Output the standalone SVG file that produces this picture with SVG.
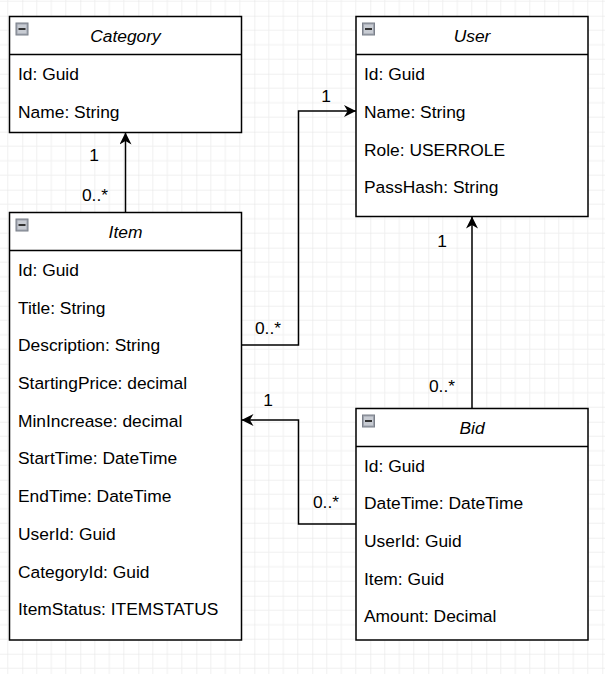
<svg xmlns="http://www.w3.org/2000/svg" width="605" height="674" viewBox="0 0 605 674">
<defs>
<pattern id="grid" x="22.3" y="15.7" width="58" height="58" patternUnits="userSpaceOnUse">
<path d="M14.5 0V58M29 0V58M43.5 0V58M0 14.5H58M0 29H58M0 43.5H58" stroke="#f0f0f0" stroke-width="1" fill="none"/>
<path d="M0 0V58M0 0H58" stroke="#e2e2e2" stroke-width="1" fill="none"/>
</pattern>
<marker id="arr" viewBox="0 0 10 10" refX="10" refY="5" markerWidth="12" markerHeight="12" markerUnits="userSpaceOnUse" orient="auto">
<path d="M0 0L10 5L0 10L3 5Z" fill="#000"/>
</marker>
<g id="icon">
<rect x="0" y="0" width="12" height="12" fill="#9ea3ad" stroke="#7b808a" stroke-width="1"/>
<rect x="1.5" y="1.5" width="9" height="9" fill="#c8ccd3"/>
<rect x="2.5" y="5" width="7" height="2" fill="#333"/>
</g>
</defs>
<style>
.box{fill:#fff;stroke:#000;stroke-width:1.5}
.sep{stroke:#000;stroke-width:1.5}
.hdr{font-family:"Liberation Sans",Arial,sans-serif;font-size:17.4px;font-style:italic;text-anchor:middle;fill:#000}
.row{font-family:"Liberation Sans",Arial,sans-serif;font-size:17.4px;fill:#000}
.lbl{font-family:"Liberation Sans",Arial,sans-serif;font-size:17.4px;fill:#000;text-anchor:middle}
.edge{fill:none;stroke:#000;stroke-width:1.5;marker-end:url(#arr)}
</style>
<rect width="605" height="674" fill="#fff"/>
<rect width="605" height="674" fill="url(#grid)"/>

<g id="connectors">
<path class="edge" d="M125.5 212.5V132.5"/>
<path class="edge" d="M241.5 345H298.5V111H356"/>
<path class="edge" d="M472 408V216.5"/>
<path class="edge" d="M356 524H298.5V420H241.5"/>
<text class="lbl" x="94" y="161">1</text>
<text class="lbl" x="95" y="201">0..*</text>
<text class="lbl" x="326" y="102">1</text>
<text class="lbl" x="268" y="334">0..*</text>
<text class="lbl" x="442" y="247">1</text>
<text class="lbl" x="442" y="392">0..*</text>
<text class="lbl" x="268" y="406">1</text>
<text class="lbl" x="326" y="508">0..*</text>
</g>

<g id="category">
<rect class="box" x="9.5" y="16.5" width="232" height="116"/>
<line class="sep" x1="9.5" y1="54.5" x2="241.5" y2="54.5"/>
<use href="#icon" x="16" y="23"/>
<text class="hdr" x="125.5" y="42">Category</text>
<text class="row" x="18" y="80">Id: Guid</text>
<text class="row" x="18" y="118">Name: String</text>
</g>

<g id="user">
<rect class="box" x="356" y="16.5" width="232" height="200"/>
<line class="sep" x1="356" y1="54.5" x2="588" y2="54.5"/>
<use href="#icon" x="362.5" y="23"/>
<text class="hdr" x="472" y="42">User</text>
<text class="row" x="364" y="80">Id: Guid</text>
<text class="row" x="364" y="118">Name: String</text>
<text class="row" x="364" y="156">Role: USERROLE</text>
<text class="row" x="364" y="193">PassHash: String</text>
</g>

<g id="item">
<rect class="box" x="9.5" y="212.5" width="232" height="427.5"/>
<line class="sep" x1="9.5" y1="250.5" x2="241.5" y2="250.5"/>
<use href="#icon" x="16" y="219"/>
<text class="hdr" x="125.5" y="238">Item</text>
<text class="row" x="18" y="276">Id: Guid</text>
<text class="row" x="18" y="314">Title: String</text>
<text class="row" x="18" y="351">Description: String</text>
<text class="row" x="18" y="389">StartingPrice: decimal</text>
<text class="row" x="18" y="427">MinIncrease: decimal</text>
<text class="row" x="18" y="464">StartTime: DateTime</text>
<text class="row" x="18" y="502">EndTime: DateTime</text>
<text class="row" x="18" y="540">UserId: Guid</text>
<text class="row" x="18" y="578">CategoryId: Guid</text>
<text class="row" x="18" y="615">ItemStatus: ITEMSTATUS</text>
</g>

<g id="bid">
<rect class="box" x="356" y="408.5" width="232" height="231.5"/>
<line class="sep" x1="356" y1="446.5" x2="588" y2="446.5"/>
<use href="#icon" x="362.5" y="415"/>
<text class="hdr" x="472" y="434">Bid</text>
<text class="row" x="364" y="472">Id: Guid</text>
<text class="row" x="364" y="509">DateTime: DateTime</text>
<text class="row" x="364" y="547">UserId: Guid</text>
<text class="row" x="364" y="585">Item: Guid</text>
<text class="row" x="364" y="622">Amount: Decimal</text>
</g>
</svg>
